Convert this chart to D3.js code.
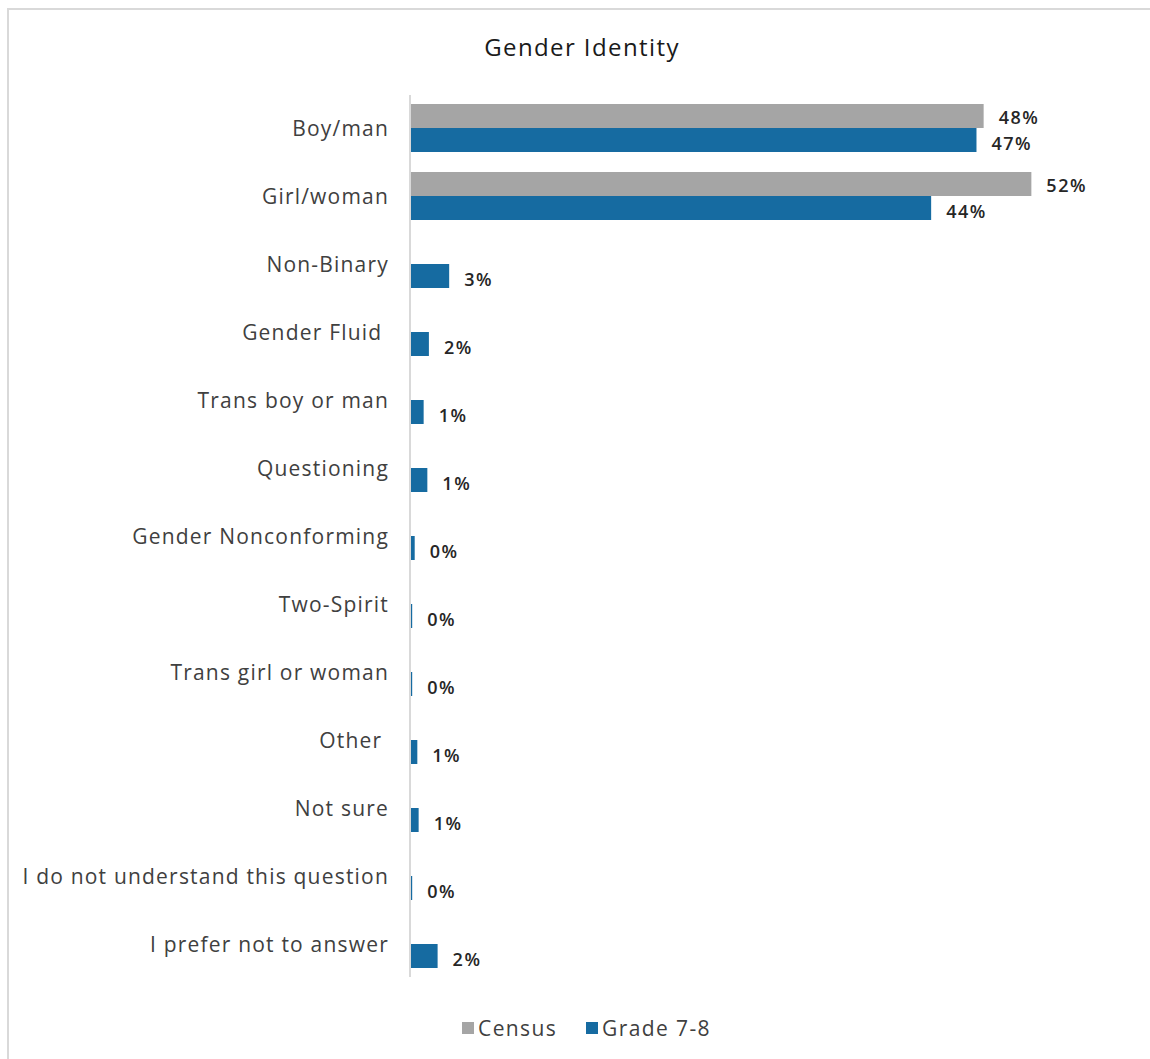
<!DOCTYPE html>
<html>
<head>
<meta charset="utf-8">
<script src="https://cdn.jsdelivr.net/npm/d3@7"></script>
<style>
  html, body { margin: 0; padding: 0; background: #fff; }
  svg { display: block; }
</style>
</head>
<body>
<svg id="chart" width="1150" height="1059"></svg>
<script>
const categories = [
  "Boy/man", "Girl/woman", "Non-Binary", "Gender Fluid ", "Trans boy or man",
  "Questioning", "Gender Nonconforming", "Two-Spirit", "Trans girl or woman",
  "Other ", "Not sure", "I do not understand this question", "I prefer not to answer"
];
const censusValues = [48.0, 52.0, null, null, null, null, null, null, null, null, null, null, null];
const gradeValues = [47.4, 43.6, 3.2, 1.5, 1.06, 1.37, 0.31, 0.1, 0.1, 0.53, 0.64, 0.1, 2.23];
const censusLabels = ["48%", "52%", "", "", "", "", "", "", "", "", "", "", ""];
const gradeLabels = ["47%", "44%", "3%", "2%", "1%", "1%", "0%", "0%", "0%", "1%", "1%", "0%", "2%"];
const seriesNames = ["Census", "Grade 7-8"];
const title = "Gender Identity";

const colors = { census: "#a5a5a5", grade: "#166ba1" };
const svg = d3.select("#chart");
const font = "'Open Sans', Lato, sans-serif";

// frame
svg.append("rect").attr("x", 8).attr("y", 9).attr("width", 1160).attr("height", 1070)
  .attr("fill", "none").attr("stroke", "#d9d9d9").attr("stroke-width", 2);

const x0 = 411;
const x = d3.scaleLinear().domain([0, 52]).range([x0, x0 + 52 * 11.93]);
const y = d3.scaleBand().domain(categories).range([94, 978]).paddingInner(20 / 68).paddingOuter(10 / 68);

svg.append("text").attr("x", 582).attr("y", 46).attr("text-anchor", "middle")
  .attr("dominant-baseline", "central")
  .attr("font-family", font).attr("font-size", 24).attr("font-weight", 500).attr("fill", "#1a1a1a")
  .attr("letter-spacing", 1.4)
  .text(title);

const bh = y.bandwidth() / 2;
const rows = categories.map((c, i) => ({ c, census: censusValues[i], grade: gradeValues[i], cl: censusLabels[i], gl: gradeLabels[i] }));

svg.append("g").selectAll("rect").data(rows.filter(d => d.census != null)).join("rect")
  .attr("x", x(0)).attr("y", d => y(d.c)).attr("width", d => x(d.census) - x(0)).attr("height", bh)
  .attr("fill", colors.census);
svg.append("g").selectAll("rect").data(rows).join("rect")
  .attr("x", x(0)).attr("y", d => y(d.c) + bh).attr("width", d => x(d.grade) - x(0)).attr("height", bh)
  .attr("fill", colors.grade);

const lblStyle = sel => sel.attr("font-family", font).attr("font-size", 18).attr("font-weight", 600)
  .attr("letter-spacing", 1.5).attr("fill", "#262626").attr("dominant-baseline", "central");
svg.append("g").selectAll("text").data(rows.filter(d => d.census != null)).join("text")
  .attr("x", d => x(d.census) + 15).attr("y", d => y(d.c) + bh / 2 + 1).text(d => d.cl).call(lblStyle);
svg.append("g").selectAll("text").data(rows).join("text")
  .attr("x", d => x(d.grade) + 15).attr("y", d => y(d.c) + bh * 1.5 + 3).text(d => d.gl).call(lblStyle);

const axis = d3.axisLeft(y).tickSize(0).tickPadding(21);
const ag = svg.append("g").attr("transform", `translate(${x0 - 1},0)`).call(axis);
ag.select(".domain").attr("stroke", "#d9d9d9").attr("stroke-width", 2)
  .attr("d", `M0,${95}V${977}`);
ag.selectAll(".tick text").attr("font-family", font).attr("font-size", 21)
  .attr("letter-spacing", 1.2)
  .attr("fill", "#404040").style("white-space", "pre").attr("xml:space", "preserve")
  .attr("dy", "0.35em").attr("y", 1);

const legend = svg.append("g");
const leg = [{ n: seriesNames[0], c: colors.census, x: 462 }, { n: seriesNames[1], c: colors.grade, x: 586 }];
leg.forEach(l => {
  legend.append("rect").attr("x", l.x).attr("y", 1022).attr("width", 12).attr("height", 12).attr("fill", l.c);
  legend.append("text").attr("x", l.x + 16).attr("y", 1028).attr("dominant-baseline", "central")
    .attr("font-family", font).attr("font-size", 21).attr("letter-spacing", 1.4)
    .attr("fill", "#404040").text(l.n);
});
</script>
</body>
</html>
